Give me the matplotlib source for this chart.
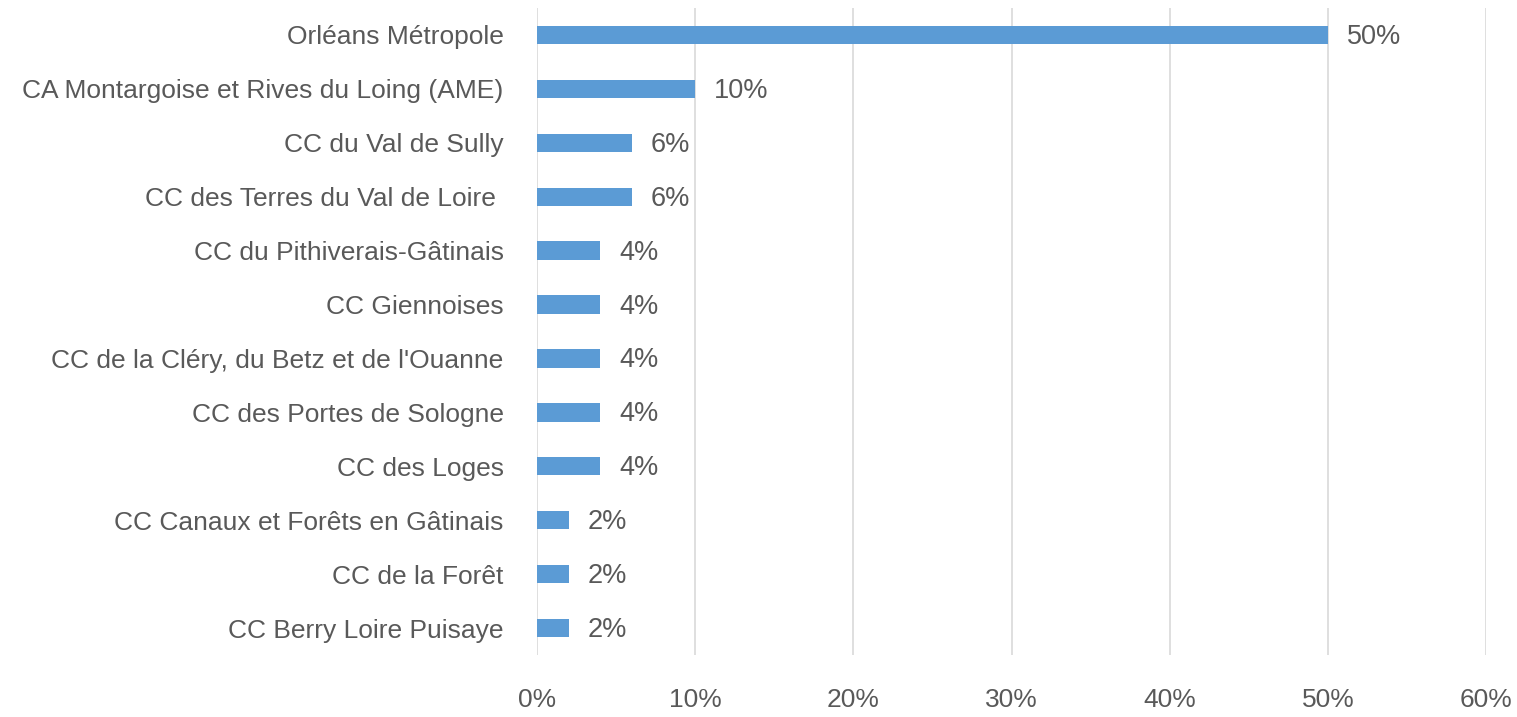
import matplotlib
matplotlib.use("Agg")
import matplotlib.pyplot as plt
from matplotlib.ticker import FuncFormatter

categories = [
    "Orléans Métropole",
    "CA Montargoise et Rives du Loing (AME)",
    "CC du Val de Sully",
    "CC des Terres du Val de Loire ",
    "CC du Pithiverais-Gâtinais",
    "CC Giennoises",
    "CC de la Cléry, du Betz et de l'Ouanne",
    "CC des Portes de Sologne",
    "CC des Loges",
    "CC Canaux et Forêts en Gâtinais",
    "CC de la Forêt",
    "CC Berry Loire Puisaye",
]
values = [0.50, 0.10, 0.06, 0.06, 0.04, 0.04, 0.04, 0.04, 0.04, 0.02, 0.02, 0.02]
xticks = [0, 0.1, 0.2, 0.3, 0.4, 0.5, 0.6]

plt.rcParams["font.family"] = ["Liberation Sans", "DejaVu Sans"]

W, H = 1517, 717
fig = plt.figure(figsize=(W / 100, H / 100), dpi=100)
ax = fig.add_axes([537 / W, 1 - 655 / H, (1486 - 537) / W, (655 - 8) / H])

ypos = list(range(len(categories)))
ax.barh(ypos, values, height=0.34, color="#5B9BD5", zorder=3)
ax.set_ylim(len(categories) - 0.5, -0.5)
ax.set_xlim(0, 0.6)
ax.set_xticks(xticks)
ax.xaxis.set_major_formatter(FuncFormatter(lambda v, p: f"{v*100:.0f}%"))
ax.set_yticks(ypos)
ax.set_yticklabels(categories)

text_color = "#595959"
ax.tick_params(axis="both", length=0, labelsize=19, colors=text_color)
ax.tick_params(axis="x", pad=24)
ax.tick_params(axis="y", pad=24)
for spine in ax.spines.values():
    spine.set_visible(False)
ax.grid(axis="x", color="#d9d9d9", linewidth=1.2, zorder=0)

for y, v in zip(ypos, values):
    ax.annotate(f"{v*100:.0f}%", xy=(v, y), xytext=(19, -2), textcoords="offset pixels",
                va="center", ha="left", fontsize=19.5, color=text_color)

fig.savefig("out.png", dpi=100)
